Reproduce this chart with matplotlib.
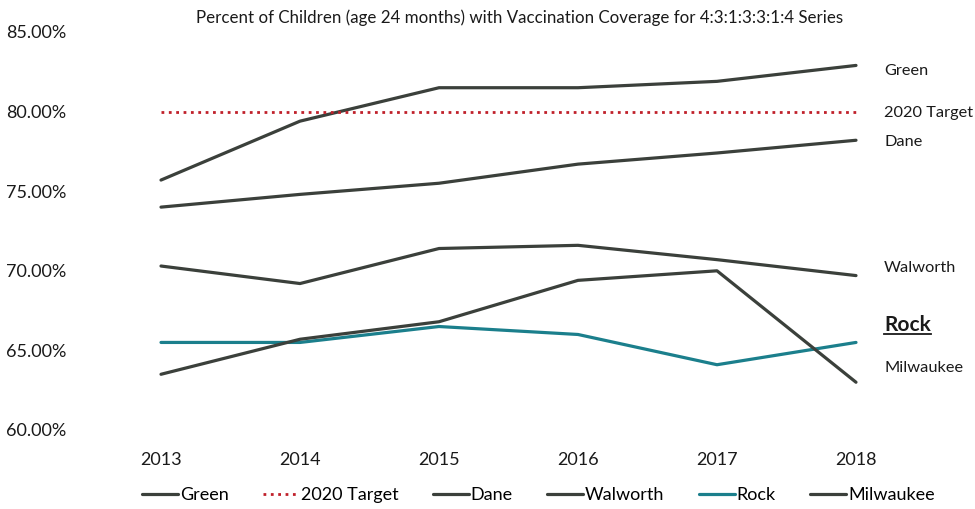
import matplotlib
matplotlib.use("Agg")
import matplotlib.pyplot as plt
from matplotlib.ticker import FuncFormatter
from matplotlib.lines import Line2D

plt.rcParams['font.family'] = ['Lato', 'DejaVu Sans']

# data
years = [2013, 2014, 2015, 2016, 2017, 2018]
green = [75.7, 79.4, 81.5, 81.5, 81.9, 82.9]
target = [80.0, 80.0, 80.0, 80.0, 80.0, 80.0]
dane = [74.0, 74.8, 75.5, 76.7, 77.4, 78.2]
walworth = [70.3, 69.2, 71.4, 71.6, 70.7, 69.7]
rock = [65.5, 65.5, 66.5, 66.0, 64.1, 65.5]
milwaukee = [63.5, 65.7, 66.8, 69.4, 70.0, 63.0]

names = ['Green', '2020 Target', 'Dane', 'Walworth', 'Rock', 'Milwaukee']
series = [green, target, dane, walworth, rock, milwaukee]

dark = '#3b403b'
colors = [dark, '#c0202a', dark, dark, '#1b7f8c', dark]
styles = ['-', ':', '-', '-', '-', '-']
# where the end labels sit (shifted so they don't overlap)
label_y = [82.55, 79.9, 78.1, 70.2, 66.6, 63.9]

fig = plt.figure(figsize=(9.75, 5.09), dpi=100)
ax = fig.add_axes([91.5 / 975, 1 - 430 / 509, 834 / 975, 398 / 509])

for name, vals, c, ls in zip(names, series, colors, styles):
    lw = 2.0 if ls == ':' else 2.3
    ax.plot(years, vals, color=c, linestyle=ls, linewidth=lw, label=name,
            solid_capstyle='round')

rock_label = None
for name, ly in zip(names, label_y):
    bold = name == 'Rock'
    t = ax.annotate(name, xy=(years[-1], ly), xytext=(28, 0),
                    textcoords='offset pixels', va='center', ha='left',
                    fontsize=15 if bold else 11.8,
                    fontweight='bold' if bold else 'normal',
                    color='#1a1a1a', annotation_clip=False)
    if bold:
        rock_label = t

ax.set_xlim(2012.5, 2018.5)
ax.set_ylim(60, 85)
ax.set_yticks([60, 65, 70, 75, 80, 85])
ax.yaxis.set_major_formatter(FuncFormatter(lambda v, p: f'{v:.2f}%'))
ax.set_xticks(years)
ax.tick_params(length=0, labelsize=13, colors='#1a1a1a')
ax.tick_params(axis='y', pad=18)
ax.tick_params(axis='x', pad=16)
for s in ax.spines.values():
    s.set_visible(False)

fig.text(0.533, 1 - 18 / 509, 'Percent of Children (age 24 months) with Vaccination Coverage for 4:3:1:3:3:1:4 Series',
         ha='center', va='center', fontsize=12.2, color='#1a1a1a')

fig.legend(loc='center', bbox_to_anchor=(0.552, 1 - 495 / 509), ncol=6,
           frameon=False, fontsize=13, handlelength=2.0, handletextpad=0.1,
           columnspacing=1.9)

# underline the Rock label
fig.canvas.draw()
bb = rock_label.get_window_extent().transformed(fig.transFigure.inverted())
uy = bb.y0 + 0.002
fig.add_artist(Line2D([bb.x0, bb.x1], [uy, uy], transform=fig.transFigure,
                      color='#1a1a1a', linewidth=1.3))

fig.savefig('out.png', dpi=100, facecolor='white')
